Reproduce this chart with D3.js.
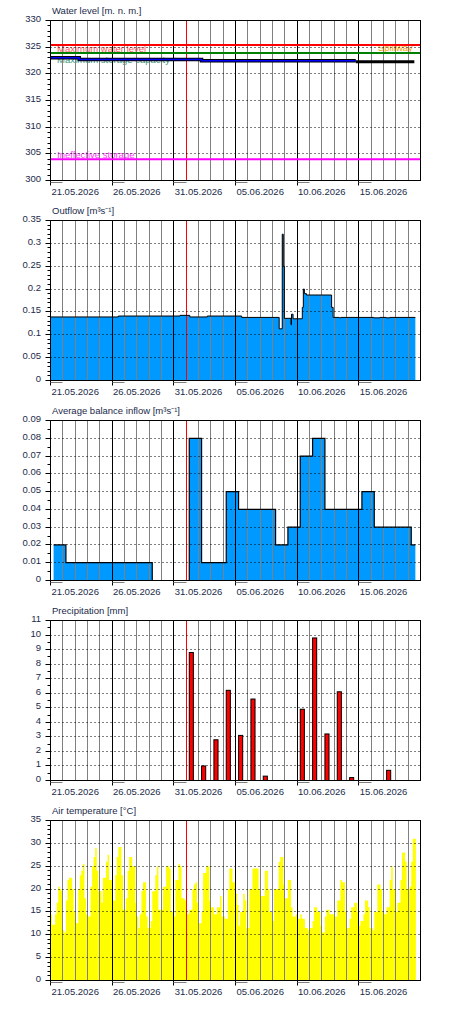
<!DOCTYPE html>
<html>
<head>
<meta charset="utf-8">
<script src="https://cdn.jsdelivr.net/npm/d3@7"></script>
<style>
  body { margin: 0; background: #fff; }
  svg text { font-family: 'Liberation Sans', Arial, sans-serif; font-size: 9.5px; }
</style>
</head>
<body>
<div id="chart"></div>
<script>
// ---- data ----
const startDate = "2026-05-19 00:00", endDate = "2026-06-18 00:00";
const nowDate = "2026-05-30 00:00";
const dateLabels = ["2026-05-21", "2026-05-26", "2026-05-31", "2026-06-05", "2026-06-10", "2026-06-15"];

const titles = ["Water level [m. n. m.]", "Outflow [m³s⁻¹]", "Average balance inflow [m³s⁻¹]",
  "Precipitation [mm]", "Air temperature [°C]"];

const levelTicks = [300, 305, 310, 315, 320, 325, 330];
const outflowTicks = [0, 0.05, 0.1, 0.15, 0.2, 0.25, 0.3, 0.35];
const inflowTicks = [0, 0.01, 0.02, 0.03, 0.04, 0.05, 0.06, 0.07, 0.08, 0.09];
const precipTicks = [0, 1, 2, 3, 4, 5, 6, 7, 8, 9, 10, 11];
const tempTicks = [0, 5, 10, 15, 20, 25, 30, 35];

const maxWaterLevel = 325.4, maxStorage = 323.9, ineffectiveStorage = 304.0;

const levelObsTimes = ["2026-05-19 00:00", "2026-05-21 08:00", "2026-05-31 06:00", "2026-06-12 18:00"];
const levelObsValues = [323.0, 322.7, 322.45, 322.45];
const levelFcTimes = ["2026-06-12 18:00", "2026-06-17 12:00"];
const levelFcValues = [322.25, 322.25];

const outflowTimes = ["2026-05-19 00:00", "2026-05-24 12:00", "2026-05-29 12:00", "2026-05-30 07:00",
  "2026-05-31 17:00", "2026-06-03 12:00", "2026-06-06 13:00", "2026-06-06 19:00", "2026-06-06 21:00",
  "2026-06-06 23:00", "2026-06-07 12:00", "2026-06-07 13:00", "2026-06-07 16:00", "2026-06-08 10:00",
  "2026-06-08 12:00", "2026-06-08 14:00", "2026-06-08 18:00", "2026-06-10 19:00", "2026-06-10 22:00",
  "2026-06-11 10:00", "2026-06-11 13:00", "2026-06-14 05:00", "2026-06-14 17:00", "2026-06-15 05:00",
  "2026-06-15 12:00", "2026-06-17 14:00"];
const outflowValues = [0.139, 0.141, 0.1425, 0.139,
  0.141, 0.138, 0.113, 0.32, 0.25,
  0.136, 0.122, 0.145, 0.135, 0.16,
  0.2, 0.19, 0.187, 0.16, 0.138,
  0.137, 0.138, 0.137, 0.138, 0.137,
  0.138, 0.138];

// daily balance from 06:00
const inflowFirst = "2026-05-19 06:00", inflowEnd = "2026-06-17 14:00";
const inflowValues = [0.02, 0.01, 0.01, 0.01, 0.01, 0.01, 0.01, 0.01, 0, 0, 0, 0.08, 0.01, 0.01, 0.05,
  0.04, 0.04, 0.04, 0.02, 0.03, 0.07, 0.08, 0.04, 0.04, 0.04, 0.05, 0.03, 0.03, 0.03, 0.02];

const precipDates = ["2026-05-30", "2026-05-31", "2026-06-01", "2026-06-02", "2026-06-03", "2026-06-04",
  "2026-06-05", "2026-06-08", "2026-06-09", "2026-06-10", "2026-06-11", "2026-06-12", "2026-06-15"];
const precipValues = [8.8, 1.0, 2.8, 6.2, 3.1, 5.6, 0.3, 4.9, 9.8, 3.2, 6.1, 0.2, 0.7];

// 3-hourly air temperature from 19.05 00:00
const tempStepHours = 3;
const tempValues = [
  14.5, 12.2, 12.2, 14.5, 17, 20.5, 20, 19.5, 11, 10.5,
  17.5, 22, 22.5, 22.5, 20, 15, 12.5, 12.5, 20, 23,
  24, 25.5, 18, 14.5, 14, 14, 20.5, 25, 27, 29,
  24, 19.5, 19.5, 17, 22.5, 22.5, 26, 27.5, 22, 22,
  17.5, 17.5, 23, 27, 29.2, 29.2, 23, 15.5, 15.5, 18,
  24, 27, 27, 25, 25, 17, 14, 11.5, 14.5, 19.5,
  21.5, 21.5, 14, 11.5, 11.5, 13, 19.5, 19.5, 23, 25,
  15.5, 15.5, 15.5, 20.5, 20.5, 25, 25, 24.5, 15, 15,
  14, 22, 22, 25.5, 25, 18, 18, 17.5, 14.5, 14.5,
  15.5, 15.5, 20, 21, 21.5, 17, 12.5, 12.5, 15, 23.5,
  23.5, 25, 25, 17.5, 16, 16, 14.5, 14.5, 16, 16,
  18.5, 14, 14,
  13.5, 13.5, 20, 24.5, 24.5, 21.5, 21.5, 19, 16.5, 12,
  15, 15, 19, 17.5, 11.5, 11.5, 20, 20, 24.5, 24.5,
  24.5, 24.5, 20, 18.5, 18.5, 18.5, 24, 24, 20, 15,
  15, 13, 20, 20, 20, 26, 27, 27, 21, 18,
  18, 22, 22, 16, 14, 14, 14.5, 13.5, 13.5, 14.5,
  13.5, 13.5, 11.5, 11.5, 11, 11.5, 11.5, 13, 16, 16,
  15, 15, 12, 10.5, 10.5, 14, 15.5, 15.5, 14.5, 14.5,
  14.5, 14, 14, 17.5, 17.5, 22, 21.5, 21.5, 15, 11.5,
  11.5, 13.5, 16, 16, 17, 17, 15, 12, 13, 13,
  14.5, 17.5, 17.5, 16, 11.5, 11.5, 11, 15, 15, 21,
  21, 20, 15, 14.5, 14.5, 16, 16, 22, 25, 20,
  20, 15, 17, 17, 22, 28, 28, 26, 20, 20,
  20.5, 26, 31, 31];

// ---- layout ----
const plot = {left: 50.5, right: 420.5, top: 20.5, bottom: 180.5, step: 200};
const textColor = "#1b2a4a";
const parse = d3.timeParse("%Y-%m-%d %H:%M");
const parseDay = d3.timeParse("%Y-%m-%d");
const fmtLabel = d3.timeFormat("%d.%m.%Y");

const t0 = parse(startDate), t1 = parse(endDate), tNow = parse(nowDate);
const x = d3.scaleTime().domain([t0, t1]).range([plot.left, plot.right]);
const px = v => Math.floor(v) + 0.5;

const svg = d3.select("#chart").append("svg")
    .attr("width", 450)
    .attr("height", 1010);

function panel(i, title, ticks, minorStep) {
  const g = svg.append("g").attr("transform", `translate(0,${i * plot.step})`);
  const y = d3.scaleLinear().domain(d3.extent(ticks)).range([plot.bottom, plot.top]);
  const back = g.append("g"), grid = g.append("g"), front = g.append("g");

  g.append("text").attr("x", 52).attr("y", 14).attr("fill", textColor).text(title);

  // vertical day lines
  d3.timeDay.range(d3.timeDay.offset(t0, 1), t1).forEach(d => {
    const idx = d3.timeDay.count(t0, d);
    const col = +d === +tNow ? "#ff0000" : (idx % 5 === 0 ? "#000" : "#808080");
    grid.append("line")
      .attr("x1", px(x(d))).attr("x2", px(x(d)))
      .attr("y1", plot.top).attr("y2", plot.bottom)
      .attr("stroke", col).attr("stroke-width", 1);
  });

  // dotted horizontals
  ticks.slice(1, -1).forEach(t => {
    grid.append("line")
      .attr("x1", plot.left).attr("x2", plot.right)
      .attr("y1", px(y(t))).attr("y2", px(y(t)))
      .attr("stroke", "#000").attr("stroke-dasharray", "1,3");
  });

  // y axis ticks and labels
  d3.range(ticks[0], ticks[ticks.length - 1] + minorStep / 2, minorStep).forEach(t => {
    g.append("line").attr("x1", plot.left - 3).attr("x2", plot.left)
      .attr("y1", px(y(t))).attr("y2", px(y(t))).attr("stroke", "#000");
  });
  ticks.forEach(t => {
    g.append("line").attr("x1", plot.left - 5).attr("x2", plot.left)
      .attr("y1", px(y(t))).attr("y2", px(y(t))).attr("stroke", "#000");
    g.append("text").attr("x", 41).attr("y", y(t) + 1.5)
      .attr("text-anchor", "end").attr("fill", textColor).text(String(t));
  });

  // x axis: 5-day marks, labels
  d3.timeDay.range(t0, t1).filter(d => d3.timeDay.count(t0, d) % 5 === 0).forEach(d => {
    const xa = px(x(d)), xb = px(x(d3.timeDay.offset(d, 1)));
    g.append("line").attr("x1", xa).attr("x2", xa)
      .attr("y1", plot.bottom).attr("y2", plot.bottom + 5).attr("stroke", "#000");
    g.append("line").attr("x1", xa).attr("x2", xb)
      .attr("y1", plot.bottom + 2).attr("y2", plot.bottom + 2).attr("stroke", "#808080");
  });
  dateLabels.forEach(s => {
    const d = parseDay(s);
    g.append("text").attr("x", x(d)).attr("y", plot.bottom + 14)
      .attr("text-anchor", "middle").attr("fill", textColor).text(fmtLabel(d));
  });

  g.append("rect")
    .attr("x", plot.left).attr("y", plot.top)
    .attr("width", plot.right - plot.left).attr("height", plot.bottom - plot.top)
    .attr("fill", "none").attr("stroke", "#000");

  return {g, y, back, front};
}

const stepLine = (y) => d3.line().curve(d3.curveStepAfter).x(d => x(d.t)).y(d => y(d.v));
const stepArea = (y) => d3.area().curve(d3.curveStepAfter).x(d => x(d.t)).y0(y(0)).y1(d => y(d.v));

// ---- panel 1: water level ----
{
  const p = panel(0, titles[0], levelTicks, 1);
  const labels = [
    {text: "Maximum water level", x: 57, v: maxWaterLevel, dy: 7, col: "#ff5a5a"},
    {text: "Maximum storage capacity", x: 57, v: maxStorage, dy: 9.5, col: "#3a9a78"},
    {text: "Ineffective storage", x: 57, v: ineffectiveStorage, dy: -1.5, col: "#ff40ff"},
    {text: "Spillway", x: 378, v: maxWaterLevel, dy: 5.5, col: "#ffa500"}
  ];
  labels.forEach(l => {
    p.back.append("text").attr("x", l.x).attr("y", p.y(l.v) + l.dy)
      .attr("fill", l.col).text(l.text);
  });
  [[maxWaterLevel, "#ff0000"], [maxStorage, "#008000"], [ineffectiveStorage, "#ff00ff"]].forEach(([v, c]) => {
    p.front.append("line")
      .attr("x1", plot.left).attr("x2", plot.right)
      .attr("y1", p.y(v)).attr("y2", p.y(v))
      .attr("stroke", c).attr("stroke-width", 2);
  });
  const obs = levelObsTimes.map((s, i) => ({t: parse(s), v: levelObsValues[i]}));
  const fc = levelFcTimes.map((s, i) => ({t: parse(s), v: levelFcValues[i]}));
  p.front.append("path").datum(obs).attr("d", stepLine(p.y))
    .attr("fill", "none").attr("stroke", "#000").attr("stroke-width", 3.5);
  p.front.append("path").datum(obs).attr("d", stepLine(p.y))
    .attr("fill", "none").attr("stroke", "#0000ff").attr("stroke-width", 1.5);
  p.front.append("path").datum(fc).attr("d", stepLine(p.y))
    .attr("fill", "none").attr("stroke", "#000").attr("stroke-width", 3);
}

// ---- panel 2: outflow ----
{
  const p = panel(1, titles[1], outflowTicks, 0.01);
  const data = outflowTimes.map((s, i) => ({t: parse(s), v: outflowValues[i]}));
  p.back.append("path").datum(data).attr("d", stepArea(p.y)).attr("fill", "#0099ff");
  p.front.append("path").datum(data).attr("d", stepLine(p.y))
    .attr("fill", "none").attr("stroke", "#000").attr("stroke-width", 1);
}

// ---- panel 3: average balance inflow ----
{
  const p = panel(2, titles[2], inflowTicks, 0.005);
  const first = parse(inflowFirst);
  const data = inflowValues.map((v, i) => ({t: d3.timeDay.offset(first, i), v: v}));
  data.push({t: parse(inflowEnd), v: inflowValues[inflowValues.length - 1]});
  p.back.append("path").datum(data).attr("d", stepArea(p.y)).attr("fill", "#0099ff");
  p.front.append("path").datum(data).attr("d", stepLine(p.y))
    .attr("fill", "none").attr("stroke", "#000").attr("stroke-width", 1.2);
}

// ---- panel 4: precipitation ----
{
  const p = panel(3, titles[3], precipTicks, 0.5);
  p.front.selectAll("rect.bar")
    .data(precipDates.map((s, i) => ({d: parseDay(s), v: precipValues[i]})))
    .join("rect")
      .attr("class", "bar")
      .attr("x", d => x(d3.timeHour.offset(d.d, 6)))
      .attr("width", d => x(d3.timeHour.offset(d.d, 14)) - x(d3.timeHour.offset(d.d, 6)))
      .attr("y", d => p.y(d.v))
      .attr("height", d => p.y(0) - p.y(d.v))
      .attr("fill", "#ff0000")
      .attr("stroke", "#000")
      .attr("stroke-width", 1);
}

// ---- panel 5: air temperature ----
{
  const p = panel(4, titles[4], tempTicks, 1);
  const data = tempValues.map((v, i) => ({t: d3.timeHour.offset(t0, i * tempStepHours), v: v}));
  data.push({t: d3.timeHour.offset(t0, tempValues.length * tempStepHours), v: tempValues[tempValues.length - 1]});
  p.back.append("path").datum(data).attr("d", stepArea(p.y)).attr("fill", "#ffff00");
}
</script>
</body>
</html>
